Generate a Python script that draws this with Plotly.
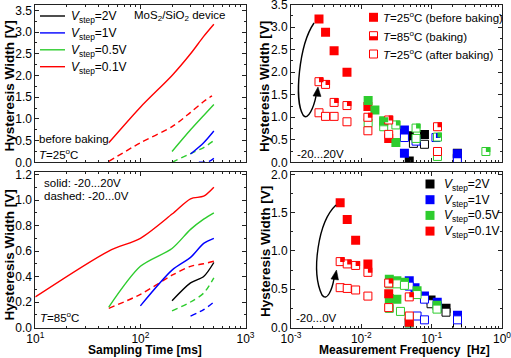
import plotly.graph_objects as go

W, H = 511, 358
FONT = "Arial, Liberation Sans, sans-serif"

RED, GREEN, BLUE, BLACK = "#FF0000", "#2ECC2E", "#0000FF", "#000000"

# ---------------- Left panels: sampling time [ms] vs hysteresis width [V]
# top-left (before baking, T=25C)
tl_red_solid_t = [50, 100, 200, 300, 400, 500]
tl_red_solid_w = [0.45, 1.27, 2.0, 2.5, 2.9, 3.18]
tl_red_dash_t = [50, 100, 200, 300, 400, 480]
tl_red_dash_w = [0.02, 0.45, 0.82, 1.15, 1.4, 1.53]
tl_green_solid_t = [200, 300, 400, 500]
tl_green_solid_w = [0.25, 0.75, 1.08, 1.33]
tl_green_dash_t = [200, 300, 400, 500]
tl_green_dash_w = [0.0, 0.2, 0.34, 0.5]
tl_blue_solid_t = [300, 400, 500]
tl_blue_solid_w = [0.19, 0.45, 0.72]
tl_blue_dash_t = [360, 450, 500]
tl_blue_dash_w = [0.0, 0.02, 0.09]

# bottom-left (T=85C)
bl_red_solid_t = [10, 50, 100, 200, 300, 400, 500]
bl_red_solid_w = [0.24, 0.6, 0.7, 0.89, 1.01, 1.03, 1.1]
bl_red_dash_t = [50, 100, 200, 300, 400, 500]
bl_red_dash_w = [0.15, 0.26, 0.41, 0.48, 0.50, 0.52]
bl_green_solid_t = [50, 100, 200, 300, 400, 500]
bl_green_solid_w = [0.16, 0.48, 0.62, 0.77, 0.85, 0.9]
bl_green_dash_t = [200, 300, 400, 500]
bl_green_dash_w = [0.13, 0.2, 0.27, 0.39]
bl_blue_solid_t = [100, 200, 300, 400, 500]
bl_blue_solid_w = [0.17, 0.45, 0.55, 0.66, 0.7]
bl_blue_dash_t = [300, 400, 500]
bl_blue_dash_w = [0.09, 0.14, 0.2]
bl_black_solid_t = [200, 300, 400, 500]
bl_black_solid_w = [0.21, 0.35, 0.40, 0.51]

# ---------------- Right panels: measurement frequency [Hz] vs width [V]
# top-right (-20...20V); filled = 25C before, half = 85C baking, open = 25C after
tr_red_filled_f = [2.5e-3, 3.1e-3, 4.1e-3, 6.25e-3, 1.24e-2, 2.45e-2]
tr_red_filled_w = [3.18, 2.89, 2.48, 2.0, 1.24, 0.53]
tr_red_half_f = [2.5e-3, 3.1e-3, 4.1e-3, 6.25e-3, 1.24e-2, 2.45e-2, 0.121]
tr_red_half_w = [1.79, 1.73, 1.33, 1.26, 1.0, 0.94, 0.79]
tr_red_open_f = [2.5e-3, 3.1e-3, 4.1e-3, 6.25e-3, 1.24e-2, 2.45e-2, 0.121]
tr_red_open_w = [1.10, 1.02, 1.02, 0.90, 0.70, 0.62, 0.24]
tr_green_filled_f = [1.25e-2, 1.56e-2, 2.08e-2, 3.1e-2]
tr_green_filled_w = [1.37, 1.16, 0.92, 0.44]
tr_green_half_f = [2.08e-2, 3.1e-2, 6.0e-2, 0.121, 0.59]
tr_green_half_w = [0.9, 0.83, 0.76, 0.56, 0.24]
tr_green_open_f = [1.25e-2, 2.08e-2, 6.0e-2, 0.121]
tr_green_open_w = [0.88, 0.79, 0.53, 0.13]
tr_blue_filled_f = [0.041, 0.041, 0.232]
tr_blue_filled_w = [0.72, 0.2, 0.19]
tr_blue_half_f = [0.115]
tr_blue_half_w = [0.55]
tr_blue_open_f = [0.041, 0.06, 0.232]
tr_blue_open_w = [0.55, 0.47, 0.08]
tr_black_filled_f = [0.048, 0.048, 0.079, 0.232]
tr_black_filled_w = [0.59, 0.03, 0.62, 0.2]
tr_black_open_f = [0.055, 0.079, 0.232]
tr_black_open_w = [0.42, 0.40, 0.1]

# bottom-right (-20...0V)
br_red_filled_f = [5.0e-3, 6.3e-3, 8.3e-3, 1.24e-2, 2.45e-2, 4.8e-2]
br_red_filled_w = [1.63, 1.41, 1.14, 0.83, 0.44, 0.07]
br_red_half_f = [5.0e-3, 6.3e-3, 8.3e-3, 1.24e-2, 2.45e-2, 4.8e-2]
br_red_half_w = [0.86, 0.83, 0.81, 0.72, 0.58, 0.40]
br_red_open_f = [5.0e-3, 6.3e-3, 8.3e-3, 1.24e-2, 2.45e-2, 4.8e-2]
br_red_open_w = [0.52, 0.51, 0.49, 0.41, 0.26, 0.15]
br_green_filled_f = [0.025, 0.032, 0.041, 0.062, 0.119, 0.025, 0.032, 0.048]
br_green_filled_w = [0.63, 0.61, 0.59, 0.48, 0.29, 0.38, 0.37, 0.04]
br_green_open_f = [0.025, 0.032, 0.041, 0.062, 0.119, 0.025, 0.036, 0.048]
br_green_open_w = [0.57, 0.57, 0.55, 0.43, 0.24, 0.25, 0.21, 0.13]
br_blue_filled_f = [0.048, 0.058, 0.079, 0.12, 0.233, 0.048]
br_blue_filled_w = [0.61, 0.52, 0.41, 0.33, 0.16, 0.06]
br_blue_open_f = [0.048, 0.079, 0.12, 0.233, 0.062, 0.079]
br_blue_open_w = [0.54, 0.37, 0.28, 0.1, 0.15, 0.1]
br_black_filled_f = [0.098, 0.16, 0.233]
br_black_filled_w = [0.36, 0.25, 0.07]
br_black_open_f = [0.098, 0.16, 0.233]
br_black_open_w = [0.31, 0.2, 0.02]

# tick labels
left_tickvals = [10, 100, 1000]
left_ticktext = ["10<sup>1</sup>", "10<sup>2</sup>", "10<sup>3</sup>"]
right_tickvals = [1e-3, 1e-2, 1e-1, 1]
right_ticktext = ["10<sup>-3</sup>", "10<sup>-2</sup>", "10<sup>-1</sup>", "10<sup>0</sup>"]

vstep_labels = ["2V", "1V", "0.5V", "0.1V"]
vstep_colors = [BLACK, BLUE, GREEN, RED]
tr_legend_labels = ["<i>T</i>=25<sup>o</sup>C (before baking)",
                    "<i>T</i>=85<sup>o</sup>C (baking)",
                    "<i>T</i>=25<sup>o</sup>C (after baking)"]


def X(p):
    return p / W


def Y(p):
    return 1 - p / H


fig = go.Figure()

DASH = "6px,4px"


def add_line(t, w, color, dash, ax):
    fig.add_trace(go.Scatter(
        x=t, y=w, mode="lines", xaxis="x" + ax, yaxis="y" + ax,
        line=dict(color=color, width=1.4, dash=dash, shape="spline", smoothing=0.8),
        showlegend=False, hoverinfo="skip"))


# top-left
add_line(tl_red_solid_t, tl_red_solid_w, RED, "solid", "")
add_line(tl_red_dash_t, tl_red_dash_w, RED, DASH, "")
add_line(tl_green_solid_t, tl_green_solid_w, GREEN, "solid", "")
add_line(tl_green_dash_t, tl_green_dash_w, GREEN, DASH, "")
add_line(tl_blue_solid_t, tl_blue_solid_w, BLUE, "solid", "")
add_line(tl_blue_dash_t, tl_blue_dash_w, BLUE, DASH, "")
# bottom-left
add_line(bl_red_solid_t, bl_red_solid_w, RED, "solid", "3")
add_line(bl_red_dash_t, bl_red_dash_w, RED, DASH, "3")
add_line(bl_green_solid_t, bl_green_solid_w, GREEN, "solid", "3")
add_line(bl_green_dash_t, bl_green_dash_w, GREEN, DASH, "3")
add_line(bl_blue_solid_t, bl_blue_solid_w, BLUE, "solid", "3")
add_line(bl_blue_dash_t, bl_blue_dash_w, BLUE, DASH, "3")
add_line(bl_black_solid_t, bl_black_solid_w, BLACK, "solid", "3")

MS = 9
half_points = []


def add_markers(f, w, color, kind, ax):
    if kind == "filled":
        marker = dict(symbol="square", size=MS, color=color, line=dict(width=0))
    else:
        marker = dict(symbol="square", size=MS - 1, color="white",
                      line=dict(width=1, color=color))
    fig.add_trace(go.Scatter(x=f, y=w, mode="markers", xaxis="x" + ax, yaxis="y" + ax,
                             marker=marker, showlegend=False, hoverinfo="skip"))
    if kind == "half":
        for a, b in zip(f, w):
            half_points.append((a, b, color, ax))


# top-right
add_markers(tr_black_open_f, tr_black_open_w, BLACK, "open", "2")
add_markers(tr_black_filled_f, tr_black_filled_w, BLACK, "filled", "2")
add_markers(tr_blue_open_f, tr_blue_open_w, BLUE, "open", "2")
add_markers(tr_blue_half_f, tr_blue_half_w, BLUE, "half", "2")
add_markers(tr_blue_filled_f, tr_blue_filled_w, BLUE, "filled", "2")
add_markers(tr_red_filled_f, tr_red_filled_w, RED, "filled", "2")
add_markers(tr_green_open_f, tr_green_open_w, GREEN, "open", "2")
add_markers(tr_green_half_f, tr_green_half_w, GREEN, "half", "2")
add_markers(tr_green_filled_f, tr_green_filled_w, GREEN, "filled", "2")
add_markers(tr_red_open_f, tr_red_open_w, RED, "open", "2")
add_markers(tr_red_half_f, tr_red_half_w, RED, "half", "2")
# bottom-right
add_markers(br_black_filled_f, br_black_filled_w, BLACK, "filled", "4")
add_markers(br_black_open_f, br_black_open_w, BLACK, "open", "4")
add_markers(br_blue_filled_f, br_blue_filled_w, BLUE, "filled", "4")
add_markers(br_blue_open_f, br_blue_open_w, BLUE, "open", "4")
add_markers(br_green_filled_f, br_green_filled_w, GREEN, "filled", "4")
add_markers(br_green_open_f, br_green_open_w, GREEN, "open", "4")
add_markers(br_red_filled_f, br_red_filled_w, RED, "filled", "4")
add_markers(br_red_half_f, br_red_half_w, RED, "half", "4")
add_markers(br_red_open_f, br_red_open_w, RED, "open", "4")

shapes = []
for a, b, color, ax in half_points:
    shapes.append(dict(type="rect", xref="x" + ax, yref="y" + ax,
                       xsizemode="pixel", ysizemode="pixel", xanchor=a, yanchor=b,
                       x0=-4.5, x1=4.5, y0=-0.5, y1=4.5,
                       fillcolor=color, line=dict(width=0), layer="above"))

# ---------------- axes
axcol = "#222222"
base = dict(showline=True, linecolor=axcol, linewidth=1, mirror="allticks",
            ticks="inside", ticklen=4, tickwidth=1, tickcolor=axcol,
            showgrid=False, zeroline=False, ticklabeloverflow="allow",
            automargin=False,
            tickfont=dict(family=FONT, size=12, color="black"))

left_minor = [m * 10 ** k for k in (1, 2) for m in range(2, 10)]
right_minor = [m * 10.0 ** k for k in (-3, -2, -1) for m in range(2, 10)]

LX = [35.3 / W, 245.5 / W]
RX = [291 / W, 502 / W]
TY = [1 - 162.3 / H, 1 - 4.7 / H]
BY = [1 - 327.5 / H, 1 - 172 / H]

xl = dict(base, type="log", range=[1, 3], tickmode="array", tickvals=left_tickvals,
          ticktext=left_ticktext,
          minor=dict(ticks="inside", ticklen=2, tickcolor=axcol, tickmode="array",
                     tickvals=left_minor))
xr = dict(base, type="log", range=[-3, 0], tickmode="array", tickvals=right_tickvals,
          ticktext=right_ticktext,
          minor=dict(ticks="inside", ticklen=2, tickcolor=axcol, tickmode="array",
                     tickvals=right_minor))


def ylin(rng, step, domain, anchor):
    return dict(base, domain=domain, anchor=anchor, range=rng, tickmode="linear",
                dtick=step, tick0=0, tickformat=".1f", showticklabels=True,
                minor=dict(ticks="inside", ticklen=2, dtick=step / 2, tickcolor=axcol))


fig.update_layout(
    xaxis=dict(xl, domain=LX, anchor="y", showticklabels=False),
    yaxis=ylin([0, 3.63], 0.5, TY, "x"),
    xaxis2=dict(xr, domain=RX, anchor="y2", showticklabels=False),
    yaxis2=ylin([0, 3.5], 0.5, TY, "x2"),
    xaxis3=dict(xl, domain=LX, anchor="y3"),
    yaxis3=ylin([0, 1.22], 0.2, BY, "x3"),
    xaxis4=dict(xr, domain=RX, anchor="y4"),
    yaxis4=ylin([0, 2.03], 0.5, BY, "x4"),
)

# ---------------- annotations / legends
ann = []


def text(x, y, s, size=11.5, bold=False, angle=0, xanchor="left", yanchor="middle"):
    ann.append(dict(x=X(x), y=Y(y), xref="paper", yref="paper", text=s,
                    showarrow=False, xanchor=xanchor, yanchor=yanchor,
                    textangle=angle, borderpad=0,
                    font=dict(family=FONT, size=size, color="black",
                              weight="bold" if bold else "normal")))


ytitle = "Hysteresis Width [V]"
text(8.5, 86, ytitle, 13.5, True, -90, "center")
text(8.5, 255, ytitle, 13.5, True, -90, "center")
text(265, 87, ytitle, 13.5, True, -90, "center")
text(265, 252, ytitle, 13.5, True, -90, "center")
text(145, 357.5, "Sampling Time [ms]", 12, True, 0, "center", "bottom")
text(404, 357.5, "Measurement Frequency\u00a0 [Hz]", 12, True, 0, "center", "bottom")

text(133, 16, "MoS<sub>2</sub>/SiO<sub>2</sub> device")
text(38, 139, "before baking")
text(38, 154, "<i>T</i>=25<sup>o</sup>C")
text(43, 183, "solid: -20...20V")
text(43, 196, "dashed: -20...0V")
text(39, 317, "<i>T</i>=85<sup>o</sup>C")
text(296, 154, "-20...20V")
text(295, 318, "-20...0V")

# top-left line legend
for i, (lab, col) in enumerate(zip(vstep_labels, vstep_colors)):
    yy = 16 + i * 16.9
    shapes.append(dict(type="line", xref="paper", yref="paper",
                       x0=X(40), x1=X(65), y0=Y(yy), y1=Y(yy),
                       line=dict(color=col, width=1.4)))
    text(70, yy + 1, "<i>V</i><sub>step</sub>=" + lab, 12)

# bottom-right marker legend
for i, (lab, col) in enumerate(zip(vstep_labels, vstep_colors)):
    yy = 184 + i * 15.7
    shapes.append(dict(type="rect", xref="paper", yref="paper",
                       x0=X(425.5), x1=X(434.5), y0=Y(yy - 4.5), y1=Y(yy + 4.5),
                       fillcolor=col, line=dict(width=0)))
    text(443, yy + 1, "<i>V</i><sub>step</sub>=" + lab, 12)

# top-right marker legend
tr_rows = [17.3, 35.7, 54]
for i, (lab, yy) in enumerate(zip(tr_legend_labels, tr_rows)):
    if i == 0:
        shapes.append(dict(type="rect", xref="paper", yref="paper",
                           x0=X(369), x1=X(378), y0=Y(yy - 4.5), y1=Y(yy + 4.5),
                           fillcolor=RED, line=dict(width=0)))
    else:
        shapes.append(dict(type="rect", xref="paper", yref="paper",
                           x0=X(369.5), x1=X(377.5), y0=Y(yy - 4), y1=Y(yy + 4),
                           fillcolor="white", line=dict(width=1, color=RED)))
        if i == 1:
            shapes.append(dict(type="rect", xref="paper", yref="paper",
                               x0=X(369), x1=X(378), y0=Y(yy + 0.5), y1=Y(yy + 4.5),
                               fillcolor=RED, line=dict(width=0)))
    text(382, yy, lab, 11.5)


def path(pts):
    s = "M %.4f,%.4f" % (X(pts[0][0]), Y(pts[0][1]))
    rest = pts[1:]
    for i in range(0, len(rest), 3):
        s += " C " + " ".join("%.4f,%.4f" % (X(a), Y(b)) for a, b in rest[i:i + 3])
    return s


def tri(pts):
    return "M " + " L ".join("%.4f,%.4f" % (X(a), Y(b)) for a, b in pts) + " Z"


# curved arrows
shapes.append(dict(type="path", xref="paper", yref="paper",
                   path=path([(314, 23), (299, 45), (294, 100), (303, 115),
                              (308, 122), (314, 106), (316, 96)]),
                   line=dict(color="black", width=1.4)))
shapes.append(dict(type="path", xref="paper", yref="paper",
                   path=tri([(318, 87), (313, 96), (321, 96.5)]),
                   fillcolor="black", line=dict(color="black", width=0.5)))
shapes.append(dict(type="path", xref="paper", yref="paper",
                   path=path([(336, 205), (318, 222), (311, 272), (322, 295),
                              (327, 302), (332, 290), (334, 279)]),
                   line=dict(color="black", width=1.4)))
shapes.append(dict(type="path", xref="paper", yref="paper",
                   path=tri([(336.5, 270), (331, 279), (338.5, 280)]),
                   fillcolor="black", line=dict(color="black", width=0.5)))

fig.update_layout(
    width=W, height=H, margin=dict(l=0, r=0, t=0, b=0),
    paper_bgcolor="white", plot_bgcolor="white",
    showlegend=False, annotations=ann, shapes=shapes,
    font=dict(family=FONT, size=12, color="black"),
)

fig.write_html("out.html")
